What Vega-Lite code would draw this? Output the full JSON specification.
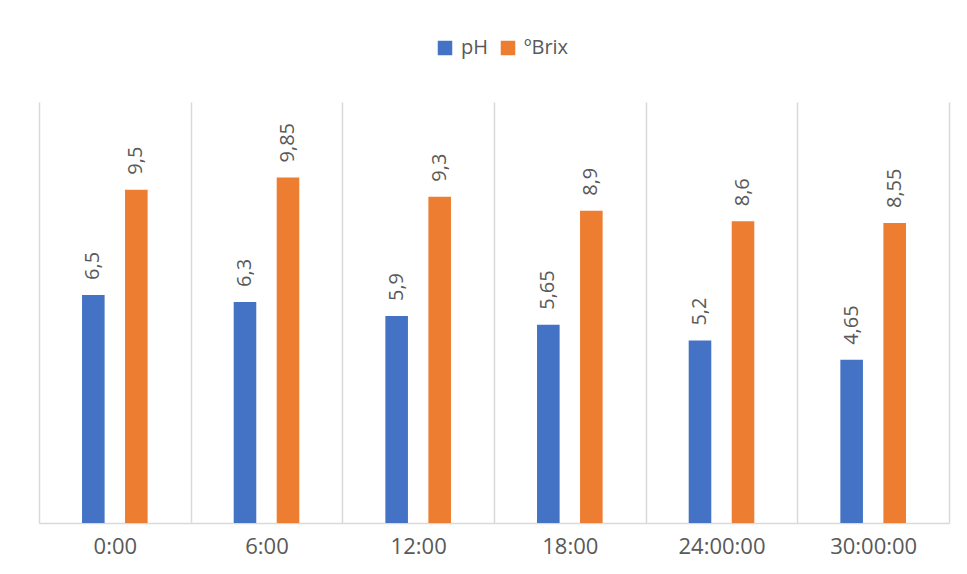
{
  "$schema": "https://vega.github.io/schema/vega-lite/v6.json",
  "width": 910,
  "height": 421,
  "autosize": "none",
  "padding": {"left": 39, "top": 102, "right": 18, "bottom": 51},
  "background": "white",
  "config": {
    "view": {"stroke": null},
    "locale": {"number": {"decimal": ",", "thousands": ".", "grouping": [3], "currency": ["", " €"]}},
    "font": "Open Sans"
  },
  "data": {
    "values": [
      {"time": "0:00", "series": "pH", "value": 6.5},
      {"time": "0:00", "series": "ºBrix", "value": 9.5},
      {"time": "6:00", "series": "pH", "value": 6.3},
      {"time": "6:00", "series": "ºBrix", "value": 9.85},
      {"time": "12:00", "series": "pH", "value": 5.9},
      {"time": "12:00", "series": "ºBrix", "value": 9.3},
      {"time": "18:00", "series": "pH", "value": 5.65},
      {"time": "18:00", "series": "ºBrix", "value": 8.9},
      {"time": "24:00:00", "series": "pH", "value": 5.2},
      {"time": "24:00:00", "series": "ºBrix", "value": 8.6},
      {"time": "30:00:00", "series": "pH", "value": 4.65},
      {"time": "30:00:00", "series": "ºBrix", "value": 8.55}
    ]
  },
  "encoding": {
    "x": {
      "field": "time",
      "type": "nominal",
      "sort": null,
      "scale": {"paddingInner": 0, "paddingOuter": 0},
      "axis": {
        "title": null,
        "labelAngle": 0,
        "labelFontSize": 22,
        "labelColor": "#595959",
        "labelPadding": 13,
        "ticks": false,
        "tickBand": "extent",
        "grid": true,
        "gridColor": "#d9d9d9",
        "gridWidth": 1.5,
        "domainColor": "#d9d9d9",
        "domainWidth": 1.5
      }
    },
    "xOffset": {
      "field": "series",
      "type": "nominal",
      "sort": ["pH", "ºBrix"],
      "scale": {"paddingInner": 0.475, "paddingOuter": 1.13}
    },
    "y": {
      "field": "value",
      "type": "quantitative",
      "scale": {"domain": [0, 12]},
      "axis": null
    }
  },
  "layer": [
    {
      "mark": {"type": "bar"},
      "encoding": {
        "color": {
          "field": "series",
          "type": "nominal",
          "sort": ["pH", "ºBrix"],
          "scale": {"domain": ["pH", "ºBrix"], "range": ["#4472C4", "#ED7D31"]},
          "legend": {
            "title": null,
            "orient": "none",
            "legendX": 396,
            "legendY": -64,
            "padding": 0,
            "direction": "horizontal",
            "symbolType": "square",
            "symbolSize": 210,
            "symbolStrokeWidth": 0,
            "labelFontSize": 20,
            "labelColor": "#595959",
            "columnPadding": 10,
            "labelOffset": 6
          }
        }
      }
    },
    {
      "mark": {"type": "text", "angle": 270, "align": "left", "baseline": "middle", "dx": 15, "fontSize": 20, "color": "#595959"},
      "encoding": {
        "text": {"field": "value", "type": "quantitative", "format": "~g"}
      }
    }
  ]
}
